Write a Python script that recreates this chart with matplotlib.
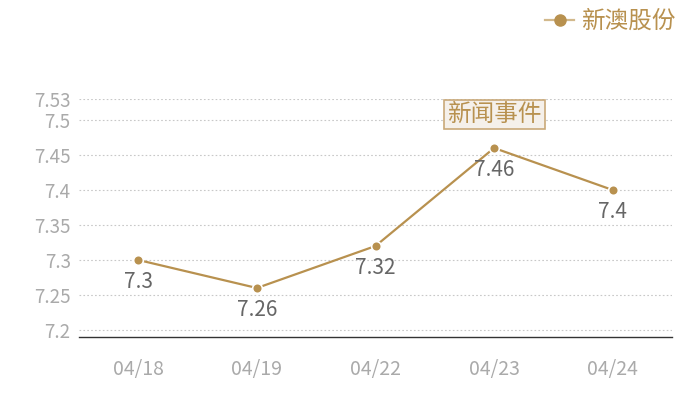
import matplotlib.pyplot as plt
from matplotlib.lines import Line2D

plt.rcParams['font.family'] = ['Noto Sans CJK SC', 'DejaVu Sans']

# 数据
dates = ['04/18', '04/19', '04/22', '04/23', '04/24']
prices = [7.3, 7.26, 7.32, 7.46, 7.4]
y_ticks = [7.2, 7.25, 7.3, 7.35, 7.4, 7.45, 7.5, 7.53]
y_tick_labels = ['7.2', '7.25', '7.3', '7.35', '7.4', '7.45', '7.5', '7.53']
series_name = '新澳股份'
event_label = '新闻事件'
event_idx = 3

gold = '#b8914f'

fig = plt.figure(figsize=(7, 4), dpi=100)
ax = fig.add_axes([79 / 700, 1 - 337 / 400, (672 - 79) / 700, (337 - 99) / 400])

x = list(range(len(dates)))
ax.plot(x, prices, color=gold, lw=1.6, marker='o', ms=7,
        markerfacecolor=gold, markeredgecolor='white', markeredgewidth=1.2, zorder=3)

for xi, v in zip(x, prices):
    ax.annotate(f'{v:g}', (xi, v), xytext=(0, -16), textcoords='offset points',
                ha='center', va='center', fontsize=15, color='#666666')

ax.set_xlim(-0.5, len(dates) - 0.5)
ax.set_ylim(7.19, 7.53)
ax.set_xticks(x)
ax.set_xticklabels(dates)
ax.set_yticks(y_ticks)
ax.set_yticklabels(y_tick_labels)
ax.tick_params(length=0, labelcolor='#aaaaaa')
ax.tick_params(axis='x', pad=16, labelsize=14)
ax.tick_params(axis='y', pad=6, labelsize=13.5)
ax.grid(axis='y', color='#c8c8c8', linestyle=(0, (1.5, 2)), lw=0.8)
for s in ['top', 'right', 'left']:
    ax.spines[s].set_visible(False)
ax.spines['bottom'].set_color('#333333')
ax.spines['bottom'].set_linewidth(1.0)

# 新闻事件标注
ax.text(event_idx, 7.508, event_label, ha='center', va='center', fontsize=17, color=gold,
        bbox=dict(boxstyle='square,pad=0.14', fc='#f5f0ea', ec='#c9a979', lw=1.2), zorder=4)

# 图例
handle = Line2D([], [], color='#d2b98c', lw=1.6, marker='o', ms=8,
                markerfacecolor=gold, markeredgecolor=gold)
fig.legend([handle], [series_name], loc='upper right', bbox_to_anchor=(0.985, 1.01),
           frameon=False, fontsize=17, labelcolor=gold, handlelength=1.2,
           handletextpad=0.3, borderaxespad=0.2)

fig.savefig('out.png', dpi=100)
